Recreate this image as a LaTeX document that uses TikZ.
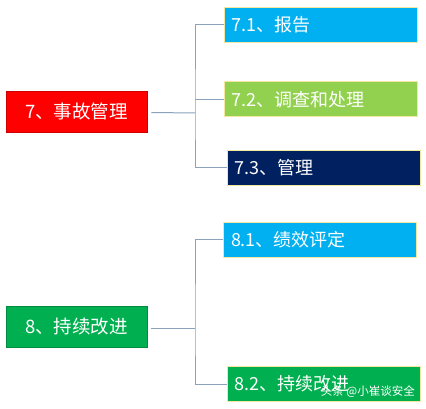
\documentclass[tikz,border=0pt]{standalone}
\usepackage{fontspec}
\setmainfont{Noto Sans CJK SC}
\definecolor{cred}{HTML}{FF0000}
\definecolor{ccyan}{HTML}{00B0F0}
\definecolor{clime}{HTML}{92D050}
\definecolor{cnavy}{HTML}{002060}
\definecolor{cgreen}{HTML}{00B050}
\definecolor{cline}{HTML}{8AA2BA}
\definecolor{cedge}{HTML}{F2E8A0}
\begin{document}
\begin{tikzpicture}[x=1pt,y=-1pt,
  mainbox/.style={draw=#1!80!black, line width=0.6pt, fill=#1, text=white, minimum width=141pt, minimum height=41pt, inner sep=0pt, font=\fontsize{18.5}{22}\selectfont},
  subbox/.style={draw=cedge, line width=1pt, fill=#1, text=white, minimum width=193pt, minimum height=35pt, inner sep=0pt, text width=178pt, align=left, font=\fontsize{18}{22}\selectfont},
  conn/.style={draw=cline, line width=1pt},
  wmark/.style={font=\fontsize{11.5}{14}\selectfont, anchor=east, inner sep=0pt}]
\useasboundingbox (0,0) rectangle (426,409);
\fill[white] (0,0) rectangle (426,409);
% group 7
\node[mainbox=cred] (m7) at (76.5,111.5) {7、事故管理};
\node[subbox=ccyan] (s71) at (320.5,25) {7.1、报告};
\node[subbox=clime] (s72) at (320.5,99.5) {7.2、调查和处理};
\node[subbox=cnavy] (s73) at (323.5,168) {7.3、管理};
\coordinate (j7) at (195,113);
\draw[conn] ([xshift=4pt,yshift=-1pt]m7.east) -- (j7);
\draw[conn] (s71.west) -| (j7) |- (s73.west);
\draw[conn] (j7 |- s72.west) -- (s72.west);
% group 8
\node[mainbox=cgreen] (m8) at (76.5,327) {8、持续改进};
\node[subbox=ccyan] (s81) at (320,239.5) {8.1、绩效评定};
\node[subbox=cgreen] (s82) at (323.5,384) {8.2、持续改进};
\coordinate (j8) at (195,328);
\draw[conn] ([xshift=4pt,yshift=-1pt]m8.east) -- (j8);
\draw[conn] (s81.west) -| (j8) |- (s82.west);
% watermark
\node[wmark, text=white] (wm) at (415,392) {头条 @小崔谈安全};
\end{tikzpicture}
\end{document}
